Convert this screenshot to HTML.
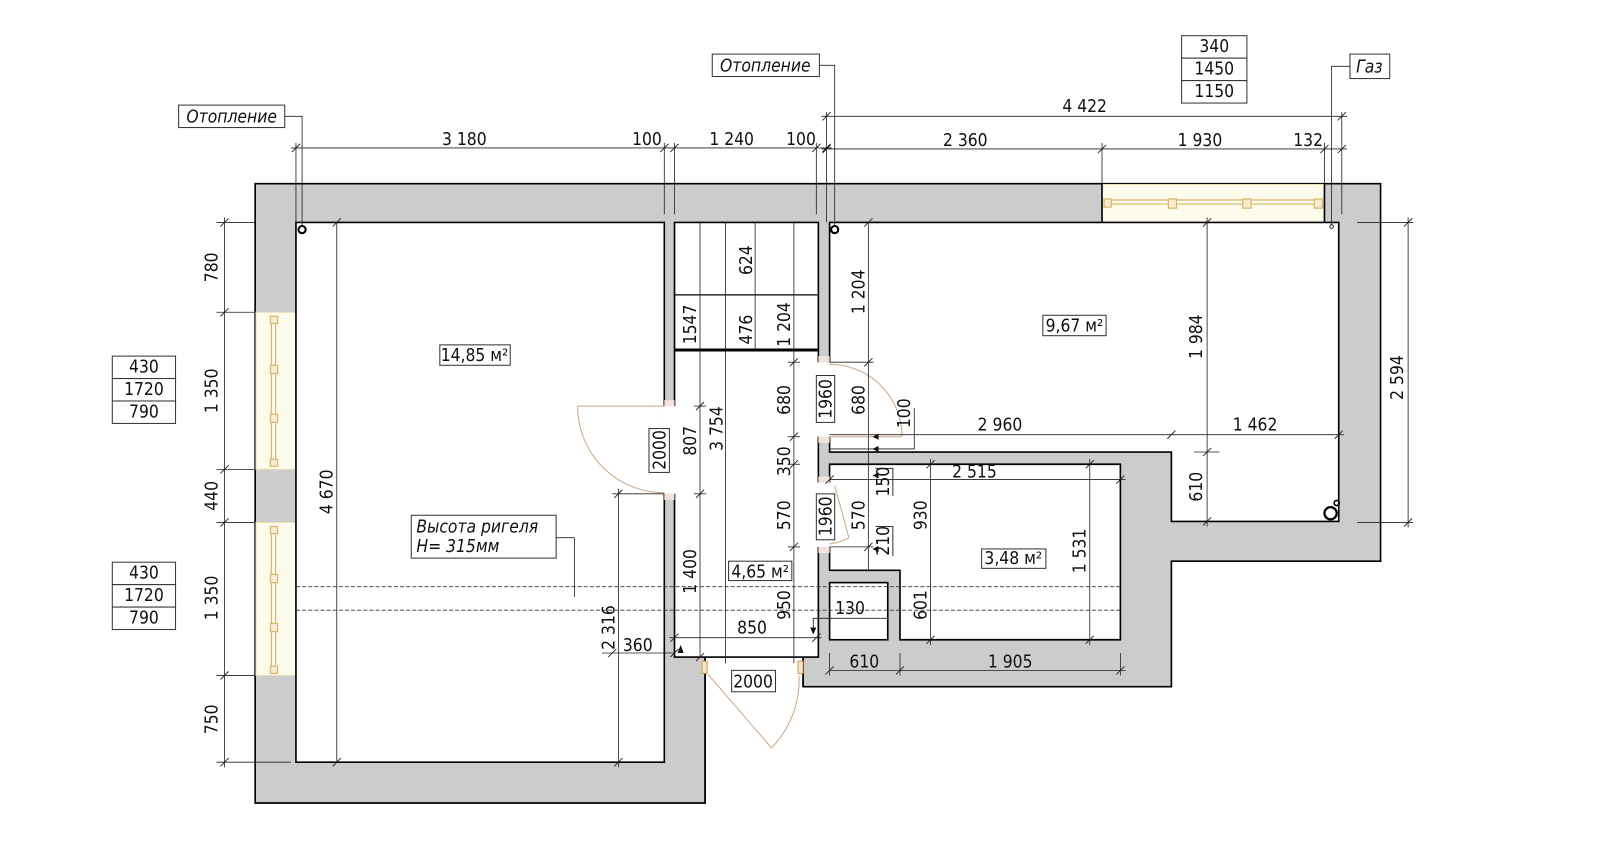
<!DOCTYPE html>
<html><head><meta charset="utf-8"><style>
html,body{margin:0;padding:0;background:#fff;}
svg{display:block;}
text{font-family:"DejaVu Sans Condensed","Liberation Sans Narrow","Liberation Sans",sans-serif;font-size:17px;fill:#111;}
.it{font-style:italic;}
</style></head><body>
<svg width="1600" height="853" viewBox="0 0 1568 836" xmlns="http://www.w3.org/2000/svg">
<rect x="0" y="0" width="1568" height="836" fill="#fff"/>
<polygon points="250,180 1353,180 1353,550 1148,550 1148,673 787,673 787,644 691,644 691,787 250,787" fill="#cccccc" stroke="#000" stroke-width="1.6"/>
<rect x="691.8" y="644" width="94.4" height="60" fill="#fff"/>
<g fill="#fdfbec" stroke="#e8dcb0" stroke-width="1">
<rect x="1080" y="180.8" width="218" height="37"/>
<rect x="250.8" y="306" width="39" height="154"/>
<rect x="250.8" y="512" width="39" height="150"/>
</g>
<g stroke="#d9b66a" stroke-width="1.2" fill="#f7ecd0">
<line x1="1086" y1="196" x2="1296" y2="196"/><line x1="1086" y1="200" x2="1296" y2="200"/>
<rect x="1082" y="195" width="7" height="8"/><rect x="1145" y="195" width="8" height="9"/><rect x="1218" y="195" width="8" height="9"/><rect x="1288" y="195" width="8" height="9"/>
<line x1="266" y1="312" x2="266" y2="456"/><line x1="270" y1="312" x2="270" y2="456"/>
<rect x="265" y="310" width="7" height="7"/><rect x="265" y="358" width="7" height="8"/><rect x="265" y="406" width="7" height="8"/><rect x="265" y="450" width="7" height="7"/>
<line x1="266" y1="517" x2="266" y2="658"/><line x1="270" y1="517" x2="270" y2="658"/>
<rect x="265" y="516" width="7" height="7"/><rect x="265" y="563" width="7" height="8"/><rect x="265" y="611" width="7" height="8"/><rect x="265" y="653" width="7" height="7"/>
</g>
<g fill="#fff" stroke="#000" stroke-width="1.6">
<rect x="290" y="218" width="361" height="529"/>
<rect x="661" y="218" width="141" height="426"/>
<polygon points="813,218 1312,218 1312,511 1148,511 1148,443 813,443"/>
<polygon points="813,455 1098,455 1098,627 882,627 882,559 813,559"/>
<rect x="813" y="571" width="57" height="56"/>
</g>
<line x1="1080" y1="180" x2="1080" y2="218" stroke="#000" stroke-width="1.6"/>
<line x1="1298" y1="180" x2="1298" y2="218" stroke="#000" stroke-width="1.6"/>
<g fill="#fff">
<rect x="650" y="398" width="12.5" height="86"/>
<rect x="801" y="355" width="13" height="73"/>
<rect x="801" y="473" width="13" height="63"/>
</g>
<g fill="#f3e2dc" stroke="none">
<rect x="651" y="392" width="10" height="6"/><rect x="651" y="484" width="10" height="6"/>
<rect x="802" y="349" width="11" height="6"/><rect x="802" y="428" width="11" height="6"/>
<rect x="802" y="467" width="11" height="6"/><rect x="802" y="536" width="11" height="6"/>
</g>
<line x1="691" y1="644" x2="691" y2="787" stroke="#000" stroke-width="1.6"/>
<line x1="787" y1="644" x2="787" y2="673" stroke="#000" stroke-width="1.6"/>
<line x1="661" y1="289" x2="801" y2="289" stroke="#000" stroke-width="1.2"/>
<line x1="661" y1="343" x2="801" y2="343" stroke="#000" stroke-width="3"/>
<g fill="none" stroke="#c9a88a" stroke-width="1">
<line x1="566" y1="398" x2="651" y2="398"/>
<path d="M566,398 A85,85 0 0 0 651,483"/>
<path d="M813,357 A71,71 0 0 1 884,428"/>
<line x1="813" y1="428" x2="884" y2="428"/>
<line x1="818" y1="476" x2="832" y2="527"/>
<path d="M832,527 A50,50 0 0 1 813,533"/>
<line x1="694" y1="661" x2="756" y2="733"/>
<path d="M756,733 A95,95 0 0 0 783,662"/>
</g>
<g fill="#f5e6c8" stroke="#c99a5a" stroke-width="1">
<rect x="688" y="648" width="5" height="12"/><rect x="782" y="648" width="5" height="12"/>
</g>
<g stroke="#333" stroke-width="0.8" stroke-dasharray="4,2">
<line x1="290" y1="575" x2="1098" y2="575"/>
<line x1="290" y1="598" x2="1098" y2="598"/>
</g>
<g stroke="#222" stroke-width="0.8" fill="none">
<line x1="285" y1="145" x2="815" y2="145"/>
<line x1="290" y1="140" x2="290" y2="218"/><line x1="651" y1="140" x2="651" y2="210"/><line x1="661" y1="140" x2="661" y2="210"/><line x1="800" y1="140" x2="800" y2="210"/><line x1="810" y1="110" x2="810" y2="218"/>
<line x1="805" y1="114" x2="1320" y2="114"/>
<line x1="805" y1="146" x2="1320" y2="146"/>
<line x1="1080" y1="140" x2="1080" y2="180"/><line x1="1298" y1="140" x2="1298" y2="180"/><line x1="1315" y1="110" x2="1315" y2="210"/>
<line x1="220" y1="213" x2="220" y2="752"/>
<line x1="212" y1="218" x2="250" y2="218"/><line x1="212" y1="306" x2="250" y2="306"/><line x1="212" y1="460" x2="250" y2="460"/><line x1="212" y1="512" x2="250" y2="512"/><line x1="212" y1="662" x2="250" y2="662"/><line x1="212" y1="747" x2="285" y2="747"/>
<line x1="1380" y1="213" x2="1380" y2="517"/>
<line x1="1330" y1="218" x2="1385" y2="218"/><line x1="1330" y1="512" x2="1385" y2="512"/>
<line x1="330" y1="218" x2="330" y2="747"/>
<line x1="606" y1="479" x2="606" y2="752"/><line x1="600" y1="484" x2="651" y2="484"/>
<line x1="686" y1="218" x2="686" y2="644"/><line x1="680" y1="398" x2="692" y2="398"/><line x1="680" y1="484" x2="692" y2="484"/>
<line x1="711" y1="218" x2="711" y2="650"/>
<line x1="740" y1="218" x2="740" y2="343"/>
<line x1="778" y1="218" x2="778" y2="650"/>
<line x1="772" y1="355" x2="784" y2="355"/><line x1="772" y1="428" x2="784" y2="428"/><line x1="772" y1="455" x2="784" y2="455"/><line x1="772" y1="536" x2="784" y2="536"/>
<line x1="851" y1="218" x2="851" y2="560"/>
<line x1="813" y1="355" x2="856" y2="355"/><line x1="813" y1="440" x2="856" y2="440"/><line x1="813" y1="536" x2="856" y2="536"/>
<line x1="813" y1="426" x2="1317" y2="426"/>
<polyline points="856,440 896,440 896,400"/>
<line x1="813" y1="470" x2="1103" y2="470"/>
<line x1="912" y1="450" x2="912" y2="632"/><line x1="1068" y1="450" x2="1068" y2="632"/>
<line x1="1183" y1="213" x2="1183" y2="516"/><line x1="1170" y1="443" x2="1195" y2="443"/>
<line x1="813" y1="657" x2="1103" y2="657"/><line x1="882" y1="640" x2="882" y2="662"/><line x1="1098" y1="640" x2="1098" y2="662"/><line x1="813" y1="640" x2="813" y2="662"/>
<line x1="656" y1="625" x2="805" y2="625"/>
<line x1="590" y1="640" x2="661" y2="640"/>
<line x1="830" y1="606" x2="870" y2="606"/>
<polyline points="830,606 797,606 797,620"/>
<line x1="545" y1="527" x2="563" y2="527"/><line x1="563" y1="527" x2="563" y2="585"/>
<polyline points="279,114 296,114 296,222"/>
<polyline points="803,64 818,64 818,222"/>
<polyline points="1323,65 1305,65 1305,220"/>
</g>
<g stroke="#222" stroke-width="0.9">
<path d="M286,149 l8,-8 M647,149 l8,-8 M657,149 l8,-8 M796,149 l8,-8 M806,149 l8,-8 M806,118 l8,-8 M1311,118 l8,-8 M806,150 l8,-8 M1076,150 l8,-8 M1294,150 l8,-8 M1311,150 l8,-8 M216,222 l8,-8 M216,310 l8,-8 M216,464 l8,-8 M216,516 l8,-8 M216,666 l8,-8 M216,751 l8,-8 M1376,222 l8,-8 M1376,516 l8,-8 M326,222 l8,-8 M326,751 l8,-8 M602,488 l8,-8 M602,751 l8,-8 M682,402 l8,-8 M682,488 l8,-8 M682,648 l8,-8 M774,359 l8,-8 M774,432 l8,-8 M774,459 l8,-8 M774,540 l8,-8 M847,359 l8,-8 M847,222 l8,-8 M847,540 l8,-8 M1144,430 l8,-8 M1308,430 l8,-8 M1179,222 l8,-8 M1179,447 l8,-8 M1179,515 l8,-8 M908,459 l8,-8 M908,631 l8,-8 M1064,459 l8,-8 M1064,631 l8,-8 M809,474 l8,-8 M1094,474 l8,-8 M809,661 l8,-8 M878,661 l8,-8 M1094,661 l8,-8 M657,629 l8,-8 M796,629 l8,-8 M596,644 l8,-8 M657,644 l8,-8"/>
</g>
<g fill="#111">
<path d="M855,440 l6,-3 v6z M855,428 l6,-3 v6z M855,466 l6,-3 v6z M855,538 l6,-3 v6z M664,640 l3,-8 l3,8z M797,622 l-3,-7 h6z"/>
</g>
<circle cx="296" cy="225" r="3.5" fill="none" stroke="#000" stroke-width="2"/>
<circle cx="818" cy="225" r="3.5" fill="none" stroke="#000" stroke-width="2"/>
<circle cx="1305" cy="222" r="1.8" fill="none" stroke="#000" stroke-width="0.8"/>
<circle cx="1304" cy="503" r="6" fill="none" stroke="#000" stroke-width="2.2"/>
<circle cx="1310" cy="493" r="2.5" fill="none" stroke="#000" stroke-width="1.6"/>
<g fill="#fff" stroke="#333" stroke-width="1">
<rect x="175" y="103" width="104" height="22"/>
<rect x="698" y="53" width="105" height="22"/>
<rect x="1323" y="53" width="39" height="24"/>
<rect x="1158" y="35" width="64" height="22"/><rect x="1158" y="57" width="64" height="22"/><rect x="1158" y="79" width="64" height="22"/>
<rect x="110" y="349" width="62" height="22"/><rect x="110" y="371" width="62" height="22"/><rect x="110" y="393" width="62" height="22"/>
<rect x="110" y="551" width="62" height="22"/><rect x="110" y="573" width="62" height="22"/><rect x="110" y="595" width="62" height="22"/>
<rect x="431" y="338" width="69" height="20"/>
<rect x="1022" y="309" width="62" height="20"/>
<rect x="962" y="538" width="63" height="19"/>
<rect x="714" y="550" width="62" height="19"/>
<rect x="717" y="657" width="43" height="21"/>
<rect x="403" y="505" width="142" height="42"/>
<rect x="636" y="420" width="20" height="43"/>
<rect x="800" y="368" width="18" height="46"/>
<rect x="800" y="484" width="18" height="45"/>
</g>
<g fill="none" stroke="#333" stroke-width="1"><polyline points="858,459 875,459 875,486"/><polyline points="858,516 875,516 875,545"/></g>
<g class="it">
<text x="227" y="120" text-anchor="middle">Отопление</text>
<text x="750" y="70" text-anchor="middle">Отопление</text>
<text x="1342" y="71" text-anchor="middle">Газ</text>
<text x="408" y="522">Высота ригеля</text>
<text x="408" y="541">Н= 315мм</text>
</g>
<g text-anchor="middle">
<text x="1190" y="51">340</text><text x="1190" y="73">1450</text><text x="1190" y="95">1150</text>
<text x="141" y="365">430</text><text x="141" y="387">1720</text><text x="141" y="409">790</text>
<text x="141" y="567">430</text><text x="141" y="589">1720</text><text x="141" y="611">790</text>
<text x="455" y="142">3 180</text><text x="634" y="142">100</text><text x="717" y="142">1 240</text><text x="785" y="142">100</text>
<text x="1063" y="110">4 422</text>
<text x="946" y="143">2 360</text><text x="1176" y="143">1 930</text><text x="1282" y="143">132</text>
<text x="465" y="354">14,85 м²</text>
<text x="1053" y="325">9,67 м²</text>
<text x="993" y="553">3,48 м²</text>
<text x="745" y="566">4,65 м²</text>
<text x="738" y="674">2000</text>
<text x="980" y="422">2 960</text><text x="1230" y="422">1 462</text>
<text x="955" y="468">2 515</text>
<text x="737" y="621">850</text><text x="625" y="638">360</text>
<text x="847" y="654">610</text><text x="990" y="654">1 905</text>
<text x="833" y="602">130</text>
</g>
<g text-anchor="middle">
<text transform="translate(213,262) rotate(-90)">780</text>
<text transform="translate(213,383) rotate(-90)">1 350</text>
<text transform="translate(213,486) rotate(-90)">440</text>
<text transform="translate(213,586) rotate(-90)">1 350</text>
<text transform="translate(213,705) rotate(-90)">750</text>
<text transform="translate(1375,370) rotate(-90)">2 594</text>
<text transform="translate(326,482) rotate(-90)">4 670</text>
<text transform="translate(602,615) rotate(-90)">2 316</text>
<text transform="translate(652,441) rotate(-90)">2000</text>
<text transform="translate(682,432) rotate(-90)">807</text>
<text transform="translate(682,560) rotate(-90)">1 400</text>
<text transform="translate(708,420) rotate(-90)">3 754</text>
<text transform="translate(682,318) rotate(-90)">1547</text>
<text transform="translate(737,255) rotate(-90)">624</text>
<text transform="translate(737,323) rotate(-90)">476</text>
<text transform="translate(774,318) rotate(-90)">1 204</text>
<text transform="translate(774,392) rotate(-90)">680</text>
<text transform="translate(774,452) rotate(-90)">350</text>
<text transform="translate(774,505) rotate(-90)">570</text>
<text transform="translate(774,593) rotate(-90)">950</text>
<text transform="translate(815,391) rotate(-90)">1960</text>
<text transform="translate(815,506) rotate(-90)">1960</text>
<text transform="translate(847,392) rotate(-90)">680</text>
<text transform="translate(847,505) rotate(-90)">570</text>
<text transform="translate(847,286) rotate(-90)">1 204</text>
<text transform="translate(892,405) rotate(-90)">100</text>
<text transform="translate(871,472) rotate(-90)">150</text>
<text transform="translate(871,530) rotate(-90)">210</text>
<text transform="translate(908,505) rotate(-90)">930</text>
<text transform="translate(908,593) rotate(-90)">601</text>
<text transform="translate(1064,540) rotate(-90)">1 531</text>
<text transform="translate(1178,330) rotate(-90)">1 984</text>
<text transform="translate(1178,477) rotate(-90)">610</text>
</g>
</svg>
</body></html>
